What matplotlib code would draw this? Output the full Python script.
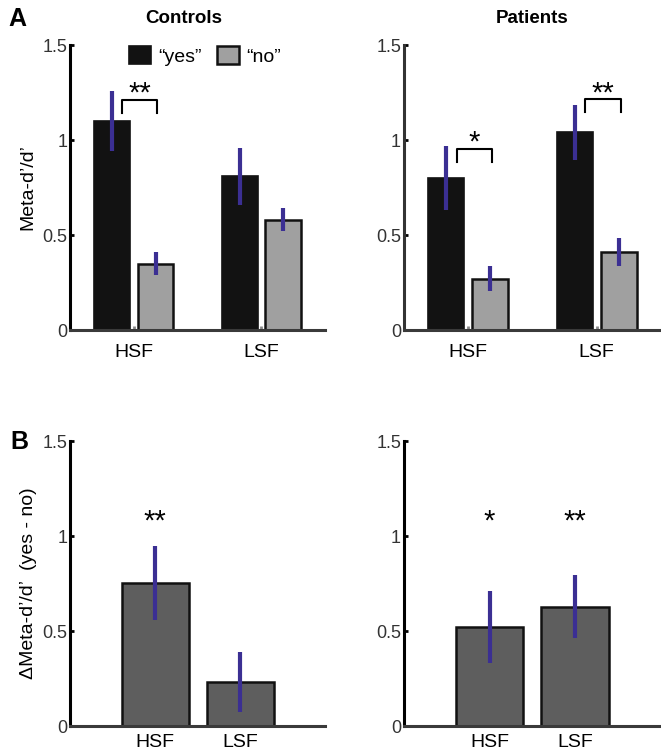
import matplotlib
matplotlib.use("Agg")
import matplotlib.pyplot as plt
import numpy as np

plt.rcParams['font.family'] = ['Liberation Sans', 'DejaVu Sans']

# data
groups = ['HSF', 'LSF']
controls_yes = [1.10, 0.81]
controls_yes_err = [0.16, 0.15]
controls_no = [0.35, 0.58]
controls_no_err = [0.06, 0.06]
patients_yes = [0.80, 1.04]
patients_yes_err = [0.17, 0.145]
patients_no = [0.27, 0.41]
patients_no_err = [0.065, 0.072]
controls_diff = [0.755, 0.232]
controls_diff_err = [0.195, 0.157]
patients_diff = [0.523, 0.628]
patients_diff_err = [0.19, 0.167]
controls_diff_stars = ['**', '']
patients_diff_stars = ['*', '**']

yes_color = '#121212'
no_color = '#a0a0a0'
diff_color = '#5e5e5e'
err_color = '#3b2f93'

fig = plt.figure(figsize=(6.61, 7.54), dpi=100)
ax1 = fig.add_axes([0.106, 0.5623, 0.386, 0.378])
ax2 = fig.add_axes([0.611, 0.5623, 0.389, 0.378])
ax3 = fig.add_axes([0.106, 0.0371, 0.386, 0.378])
ax4 = fig.add_axes([0.611, 0.0371, 0.389, 0.378])


def style(ax, left_color='black', xpad=10):
    ax.spines['top'].set_visible(False)
    ax.spines['right'].set_visible(False)
    ax.spines['left'].set_color(left_color)
    ax.spines['left'].set_linewidth(2.2)
    ax.spines['bottom'].set_color('#3a3a3a')
    ax.spines['bottom'].set_linewidth(2.2)
    ax.set_ylim(0, 1.5)
    ax.set_yticks([0, 0.5, 1, 1.5])
    ax.set_yticklabels(['0', '0.5', '1', '1.5'])
    ax.tick_params(axis='y', direction='in', length=3, width=2, labelsize=13,
                   colors='black', labelcolor='#333333', pad=2)
    ax.tick_params(axis='x', direction='in', length=3, width=2, labelsize=14,
                   colors='#888888', labelcolor='black', pad=xpad)


def group_plot(ax, yes, yes_err, no, no_err, brackets):
    x = np.arange(1, len(groups) + 1)
    off = 0.17
    w = 0.28
    b1 = ax.bar(x - off, yes, width=w, color=yes_color, edgecolor=yes_color, linewidth=1.2, label='\u201cyes\u201d', zorder=2)
    b2 = ax.bar(x + off, no, width=w, color=no_color, edgecolor='#111111', linewidth=1.8, label='\u201cno\u201d', zorder=2)
    ax.errorbar(x - off, yes, yerr=yes_err, fmt='none', ecolor=err_color, elinewidth=3, capsize=0, zorder=3)
    ax.errorbar(x + off, no, yerr=no_err, fmt='none', ecolor=err_color, elinewidth=3, capsize=0, zorder=3)
    for gi, y_top, stars in brackets:
        xl = x[gi] - 0.09
        xr = x[gi] + 0.185
        ax.plot([xl, xl, xr, xr], [y_top - 0.07, y_top, y_top, y_top - 0.07], color='black', lw=1.5, zorder=3)
        # asterisk glyph sits high, so baseline a bit under the visual centre
        ax.text((xl + xr) / 2, y_top - 0.01, stars, ha='center', va='baseline', fontsize=21)
    ax.set_xlim(0.5, 2.5)
    ax.set_xticks(x)
    ax.set_xticklabels(groups)
    return b1, b2


def diff_plot(ax, vals, errs, stars):
    x = np.arange(1, len(groups) + 1)
    ax.bar(x, vals, width=0.79, color=diff_color, edgecolor='#111111', linewidth=1.8, zorder=2)
    ax.errorbar(x, vals, yerr=errs, fmt='none', ecolor=err_color, elinewidth=3, capsize=0, zorder=3)
    for xi, s in zip(x, stars):
        if s:
            ax.text(xi, 1.035, s, ha='center', va='baseline', fontsize=21)
    ax.set_xlim(0, 3)
    ax.set_xticks(x)
    ax.set_xticklabels(groups)


style(ax1)
style(ax2, left_color='#333333')
style(ax3, xpad=6)
style(ax4, xpad=6)

b1, b2 = group_plot(ax1, controls_yes, controls_yes_err, controls_no, controls_no_err,
                    [(0, 1.21, '**')])
group_plot(ax2, patients_yes, patients_yes_err, patients_no, patients_no_err,
           [(0, 0.955, '*'), (1, 1.215, '**')])
diff_plot(ax3, controls_diff, controls_diff_err, controls_diff_stars)
diff_plot(ax4, patients_diff, patients_diff_err, patients_diff_stars)

ax1.legend([b1, b2], ['\u201cyes\u201d', '\u201cno\u201d'], ncol=2, frameon=False, fontsize=14,
           loc='center', bbox_to_anchor=(0.53, 0.962), handlelength=1.1, handleheight=1.0,
           handletextpad=0.4, columnspacing=0.8, borderaxespad=0)

ax1.set_title('Controls', fontsize=13.5, fontweight='bold', pad=16, x=0.445)
ax2.set_title('Patients', fontsize=13.5, fontweight='bold', pad=16)
ax1.set_ylabel('Meta-d\u2019/d\u2019', fontsize=14, labelpad=4)
ax3.set_ylabel('\u0394Meta-d\u2019/d\u2019  (yes - no)', fontsize=14, labelpad=4)

fig.text(0.012, 0.975, 'A', fontsize=18, fontweight='bold', va='center')
fig.text(0.015, 0.414, 'B', fontsize=18, fontweight='bold', va='center')

plt.savefig('out.png', dpi=100)
